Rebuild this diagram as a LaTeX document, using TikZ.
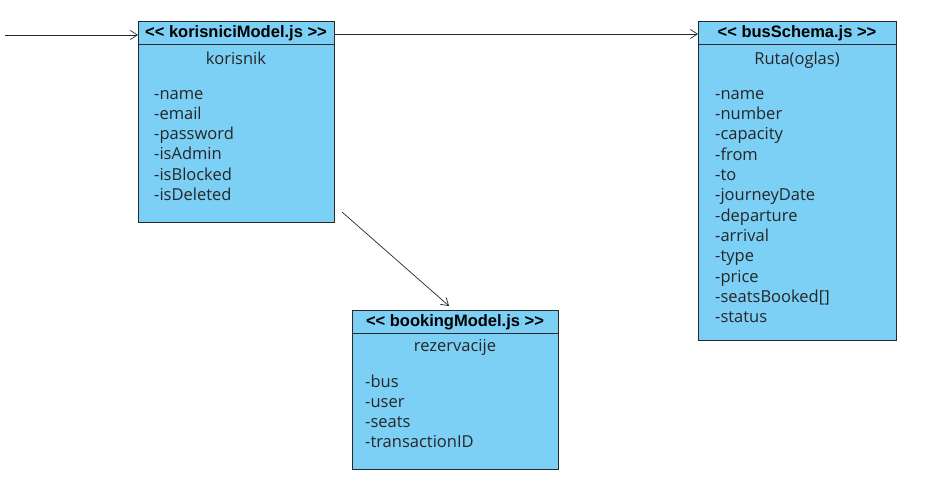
\documentclass[tikz,border=0pt]{standalone}
\usepackage{fontspec}
\setmainfont{Open Sans}
\newfontfamily\hdfont{Liberation Sans}
\usetikzlibrary{arrows.meta}
\definecolor{boxblue}{RGB}{124,207,245}
\definecolor{edge}{RGB}{40,40,40}
\tikzset{
  classbox/.style={draw=edge, fill=boxblue, line width=0.9pt},
  hdtext/.style={font=\hdfont\bfseries\fontsize{16.5}{18}\selectfont, text=black, inner sep=0pt, text height=12pt, text depth=3pt},
  ttl/.style={font=\fontsize{16.5}{18}\selectfont, text=black!85, inner sep=0pt, text height=12pt, text depth=4pt, yshift=-2pt},
  attr/.style={font=\fontsize{16.5}{18}\selectfont, text=black!85, inner sep=0pt, anchor=west, text height=12pt, text depth=4pt, yshift=-2pt},
  conn/.style={draw=edge, line width=0.7pt, -{Straight Barb[length=7pt,width=9pt,line width=0.7pt]}}
}
\begin{document}
\begin{tikzpicture}[x=1pt,y=-1pt]
\useasboundingbox (0,0) rectangle (925,480);
% korisnici box
\node[classbox, minimum width=196pt, minimum height=201pt, anchor=north west, inner sep=0pt] (kor) at (138,21) {};
\draw[edge, line width=0.9pt] (138,44) -- (334,44);
\node[hdtext] (korh) at (236,33) {<< korisniciModel.js >>};
\node[ttl] (kort) at (236,58) {korisnik};
\node[attr] (k1) at (154,93) {-name};
\node[attr] (k2) at (154,113.3) {-email};
\node[attr] (k3) at (154,133.6) {-password};
\node[attr] (k4) at (154,153.9) {-isAdmin};
\node[attr] (k5) at (154,174.2) {-isBlocked};
\node[attr] (k6) at (154,194.5) {-isDeleted};
% bus box
\node[classbox, minimum width=198pt, minimum height=319pt, anchor=north west, inner sep=0pt] (bus) at (698,21) {};
\draw[edge, line width=0.9pt] (698,44) -- (896,44);
\node[hdtext] (bush) at (797,33) {<< busSchema.js >>};
\node[ttl] (bust) at (797,58) {Ruta(oglas)};
\foreach \t [count=\i from 0] in {-name,-number,-capacity,-from,-to,-journeyDate,-departure,-arrival,-type,-price,-seatsBooked[],-status}
  \node[attr] (b\i) at (715,93+20.35*\i) {\t};
% booking box
\node[classbox, minimum width=206pt, minimum height=159pt, anchor=north west, inner sep=0pt] (book) at (352,310) {};
\draw[edge, line width=0.9pt] (352,333) -- (558,333);
\node[hdtext] (bookh) at (455,322) {<< bookingModel.js >>};
\node[ttl] (bookt) at (455,345) {rezervacije};
\node[attr] (r1) at (365,381) {-bus};
\node[attr] (r2) at (365,401.3) {-user};
\node[attr] (r3) at (365,421.6) {-seats};
\node[attr] (r4) at (365,441.9) {-transactionID};
% connectors
\coordinate (start) at (5,35);
\draw[conn] (start) -- (kor.west |- start) ;
\coordinate (kr) at (334,34);
\draw[conn] (kr) -- (bus.west |- kr);
\coordinate (ks) at (342,212);
\coordinate (be) at (449,306);
\draw[conn] (ks) -- (be);
\end{tikzpicture}
\end{document}
